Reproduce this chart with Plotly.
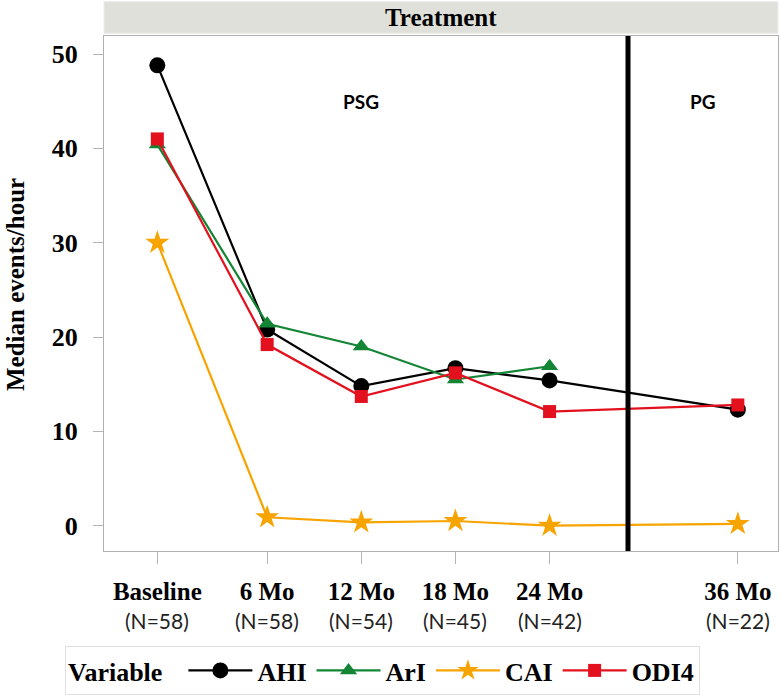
import plotly.graph_objects as go

# ---- data ----
visits = ["Baseline", "6 Mo", "12 Mo", "18 Mo", "24 Mo", "36 Mo"]
visit_n = ["(N=58)", "(N=58)", "(N=54)", "(N=45)", "(N=42)", "(N=22)"]
# month of each visit on the time axis (baseline drawn just before month 0)
visit_month = [-1, 6, 12, 18, 24, 36]
separator_month = 29

ahi = [48.8, 20.8, 14.8, 16.7, 15.4, 12.3]
ari = [40.4, 21.4, 19.0, 15.5, 16.9, None]
cai = [30.0, 0.9, 0.35, 0.5, 0.0, 0.2]
odi4 = [41.0, 19.2, 13.7, 16.2, 12.1, 12.8]

y_ticks = [0, 10, 20, 30, 40, 50]

SERIF = "Liberation Serif"
SANS = "Lato"

series = [
    ("AHI", ahi, "#000000", "circle", 16),
    ("ArI", ari, "#138535", "triangle-up", 15),
    ("CAI", cai, "#f7a400", "star", 18),
    ("ODI4", odi4, "#e3101e", "square", 13),
]

fig = go.Figure()
for name, vals, color, sym, size in series:
    xs = [m for m, v in zip(visit_month, vals) if v is not None]
    ys = [v for v in vals if v is not None]
    fig.add_trace(go.Scatter(
        x=xs, y=ys, name=f"<b>{name}</b>", mode="lines+markers",
        line=dict(color=color, width=2.2),
        marker=dict(symbol=sym, size=size, color=color, line=dict(width=0)),
    ))

# separator line
fig.add_shape(type="line", xref="x", yref="paper", x0=separator_month, x1=separator_month,
              y0=0, y1=1, line=dict(color="black", width=5), layer="above")

# header strip
fig.add_shape(type="rect", xref="paper", yref="paper", x0=0, x1=1, y0=1.0052, y1=1.0666,
              fillcolor="#dfe0da", line=dict(color="#ececea", width=1), layer="below")
fig.add_annotation(text="<b>Treatment</b>", xref="paper", yref="paper", x=0.5, y=1.0362,
                   showarrow=False, font=dict(family=SERIF, size=25, color="black"),
                   xanchor="center", yanchor="middle")

# region labels
fig.add_annotation(text="<b>PSG</b>", xref="x", yref="paper", x=12, y=0.899, showarrow=False,
                   font=dict(family=SANS, size=19, color="black"))
fig.add_annotation(text="<b>PG</b>", xref="x", yref="paper", x=(separator_month + 38.56) / 2,
                   y=0.899, showarrow=False, font=dict(family=SANS, size=19, color="black"))

# N labels under ticks
for m, n in zip(visit_month, visit_n):
    fig.add_annotation(text=n, xref="x", yref="paper", x=m, y=-0.134, showarrow=False,
                       font=dict(family=SANS, size=21, color="#222222"),
                       xanchor="center", yanchor="middle")

# y title
fig.add_annotation(text="<b>Median events/hour</b>", xref="paper", yref="paper",
                   x=-0.132, y=0.5165, textangle=-90, showarrow=False,
                   font=dict(family=SERIF, size=25, color="black"),
                   xanchor="center", yanchor="middle")

fig.update_xaxes(
    range=[-4.40, 38.56], tickmode="array", tickvals=visit_month,
    ticktext=[f"<b>{v}</b>" for v in visits],
    tickfont=dict(family=SERIF, size=25, color="black"),
    ticks="outside", ticklen=12, tickcolor="#b5b5b5", tickwidth=1,
    showline=True, linecolor="#b0b0b0", linewidth=1, mirror=True,
    showgrid=False, zeroline=False, ticklabelstandoff=6, automargin=False,
)
fig.update_yaxes(
    range=[-2.68, 51.91], tickmode="array", tickvals=y_ticks,
    ticktext=[f"<b>{t}</b>" for t in y_ticks],
    tickfont=dict(family=SERIF, size=26, color="black"),
    ticks="outside", ticklen=10, tickcolor="#b5b5b5", tickwidth=1,
    showline=True, linecolor="#b0b0b0", linewidth=1, mirror=True,
    showgrid=False, zeroline=False, ticklabelstandoff=10, automargin=False,
)

fig.update_layout(
    width=780, height=695,
    margin=dict(l=104, r=2, t=36, b=144, autoexpand=False),
    paper_bgcolor="white", plot_bgcolor="white",
    showlegend=True,
    legend=dict(
        orientation="h", x=65 / 780, xref="container", xanchor="left",
        y=(695 - 646) / 695, yref="container", yanchor="top",
        title=dict(text="<b>Variable</b>  ", font=dict(family=SERIF, size=26, color="black")),
        font=dict(family=SERIF, size=26, color="black"),
        bordercolor="#e0e0e0", borderwidth=1, bgcolor="white",
        itemwidth=64, itemsizing="trace",
    ),
)

fig.write_html(
    "out.html",
    config={"displayModeBar": False},
    post_script="document.body.style.margin='0';document.body.style.overflow='hidden';",
)
